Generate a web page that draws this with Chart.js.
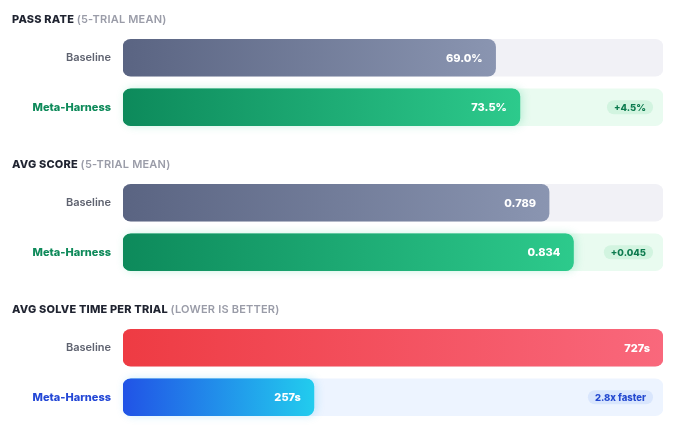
<!DOCTYPE html>
<html>
<head>
<meta charset="utf-8">
<script src="https://cdn.jsdelivr.net/npm/chart.js@4.4.1/dist/chart.umd.min.js"></script>
<style>
  html, body { margin: 0; padding: 0; background: #fff; }
  body { width: 680px; height: 436px; position: relative; overflow: hidden; font-family: Inter, sans-serif; }
  .panel { position: absolute; left: 0; width: 680px; height: 145px; }
  .panel canvas { position: absolute; left: 0; top: 0; }
  .title { position: absolute; left: 12px; top: 13px; font-size: 11px; line-height: 13px; font-weight: 800;
           color: #1f2330; letter-spacing: 0.2px; white-space: nowrap; z-index: 2; }
  .title span { color: #9a9ca8; font-weight: 600; }
</style>
</head>
<body>
<div class="panel" style="top:0px"><div class="title" id="t0"></div><canvas id="c0" width="680" height="145"></canvas></div>
<div class="panel" style="top:145px"><div class="title" id="t1"></div><canvas id="c1" width="680" height="145"></canvas></div>
<div class="panel" style="top:290px"><div class="title" id="t2"></div><canvas id="c2" width="680" height="145"></canvas></div>
<script>
// data
const categories = ['Baseline', 'Meta-Harness'];
const panelTitles = ['PASS RATE', 'AVG SCORE', 'AVG SOLVE TIME PER TRIAL'];
const panelNotes = ['(5-TRIAL MEAN)', '(5-TRIAL MEAN)', '(LOWER IS BETTER)'];
const passRate = [69.0, 73.5];
const avgScore = [0.789, 0.834];
const solveTime = [727, 257];
const axisMax = [100, 1, 727];
const deltaLabels = ['+4.5%', '+0.045', '2.8x faster'];

const series = [passRate, avgScore, solveTime];
const formats = [
  v => v.toFixed(1) + '%',
  v => v.toFixed(3),
  v => v + 's'
];

// looks
const looks = [
  { bars: [['#5a6482', '#8a95b1'], ['#0d8a5b', '#2dca8c']], tracks: ['#f1f1f6', '#e9fbf0'],
    metaLabel: '#0e8a5a', glow: 'rgba(45,202,140,0.28)', pillBg: '#d2f4e0', pillText: '#0c7a4e' },
  { bars: [['#5a6482', '#8a95b1'], ['#0d8a5b', '#2dca8c']], tracks: ['#f1f1f6', '#e9fbf0'],
    metaLabel: '#0e8a5a', glow: 'rgba(45,202,140,0.28)', pillBg: '#d2f4e0', pillText: '#0c7a4e' },
  { bars: [['#ee3b43', '#f9687c'], ['#2153e6', '#22ccee']], tracks: ['#f1f1f6', '#edf4ff'],
    metaLabel: '#2448d6', glow: 'rgba(34,180,238,0.25)', pillBg: '#d9e6fd', pillText: '#2449d0' }
];

function gradient(chart, value, c1, c2) {
  const { ctx, chartArea, scales } = chart;
  if (!chartArea) return c1;
  const x0 = scales.x.getPixelForValue(0);
  const x1 = scales.x.getPixelForValue(value);
  const g = ctx.createLinearGradient(x0, 0, x1, 0);
  g.addColorStop(0, c1);
  g.addColorStop(1, c2);
  return g;
}

function roundRect(ctx, x, y, w, h, r) {
  ctx.beginPath();
  ctx.moveTo(x + r, y);
  ctx.arcTo(x + w, y, x + w, y + h, r);
  ctx.arcTo(x + w, y + h, x, y + h, r);
  ctx.arcTo(x, y + h, x, y, r);
  ctx.arcTo(x, y, x + w, y, r);
  ctx.closePath();
}

// soft glow under the meta bar, value text and delta pill
const decorations = {
  id: 'decorations',
  beforeDatasetDraw(chart, args, opts) {
    if (args.index !== 0) return;
    const el = chart.getDatasetMeta(0).data[1];
    const ctx = chart.ctx;
    const h = el.height;
    ctx.save();
    ctx.shadowColor = opts.look.glow;
    ctx.shadowBlur = 8;
    ctx.shadowOffsetX = 2;
    ctx.fillStyle = opts.look.bars[1][1];
    roundRect(ctx, el.base, el.y - h / 2, el.x - el.base, h, 8);
    ctx.fill();
    ctx.restore();
  },
  afterDatasetsDraw(chart, args, opts) {
    const ctx = chart.ctx;
    const meta = chart.getDatasetMeta(0);
    ctx.save();
    ctx.font = '800 11px Inter';
    ctx.fillStyle = '#ffffff';
    ctx.textAlign = 'right';
    ctx.textBaseline = 'middle';
    meta.data.forEach((el, i) => {
      ctx.fillText(opts.format(chart.data.datasets[0].data[i]), el.x - 13, el.y + 0.5);
    });
    // delta pill on the meta row
    const el = meta.data[1];
    ctx.font = '800 9.5px Inter';
    const tw = ctx.measureText(opts.delta).width;
    const pw = tw + 14, ph = 14;
    const px = chart.chartArea.right - 10 - pw;
    const py = el.y - ph / 2;
    ctx.fillStyle = opts.look.pillBg;
    roundRect(ctx, px, py, pw, ph, 7);
    ctx.fill();
    ctx.fillStyle = opts.look.pillText;
    ctx.textAlign = 'center';
    ctx.fillText(opts.delta, px + pw / 2, el.y + 0.5);
    ctx.restore();
  }
};

series.forEach((values, p) => {
  const look = looks[p];
  document.getElementById('t' + p).innerHTML = panelTitles[p] + ' <span>' + panelNotes[p] + '</span>';
  const canvas = document.getElementById('c' + p);
  new Chart(canvas, {
    type: 'bar',
    data: {
      labels: categories,
      datasets: [
        {
          data: values,
          order: 0,
          barThickness: 37,
          borderRadius: 8,
          borderSkipped: false,
          backgroundColor: c => gradient(c.chart, values[c.dataIndex] || 0, look.bars[c.dataIndex][0], look.bars[c.dataIndex][1])
        },
        {
          data: categories.map(() => axisMax[p]),
          order: 1,
          barThickness: 37,
          borderRadius: 8,
          borderSkipped: false,
          backgroundColor: look.tracks
        }
      ]
    },
    options: {
      indexAxis: 'y',
      responsive: false,
      devicePixelRatio: 1,
      animation: false,
      layout: { padding: { left: 0, right: 17, top: 33, bottom: 13 } },
      scales: {
        x: { display: false, min: 0, max: axisMax[p], stacked: false },
        y: {
          grid: { display: false, drawTicks: false },
          border: { display: false },
          afterFit: s => { s.width = 123; s.paddingTop = 0; s.paddingBottom = 0; },
          ticks: {
            padding: 12,
            color: c => c.index === 1 ? look.metaLabel : '#5f6370',
            font: c => c.index === 1
              ? { family: 'Inter', size: 11, weight: '800' }
              : { family: 'Inter', size: 11, weight: '600' }
          }
        }
      },
      datasets: { bar: { grouped: false } },
      plugins: {
        legend: { display: false },
        tooltip: { enabled: false },
        decorations: { look: look, format: formats[p], delta: deltaLabels[p] }
      }
    },
    plugins: [decorations]
  });
});
</script>
</body>
</html>
